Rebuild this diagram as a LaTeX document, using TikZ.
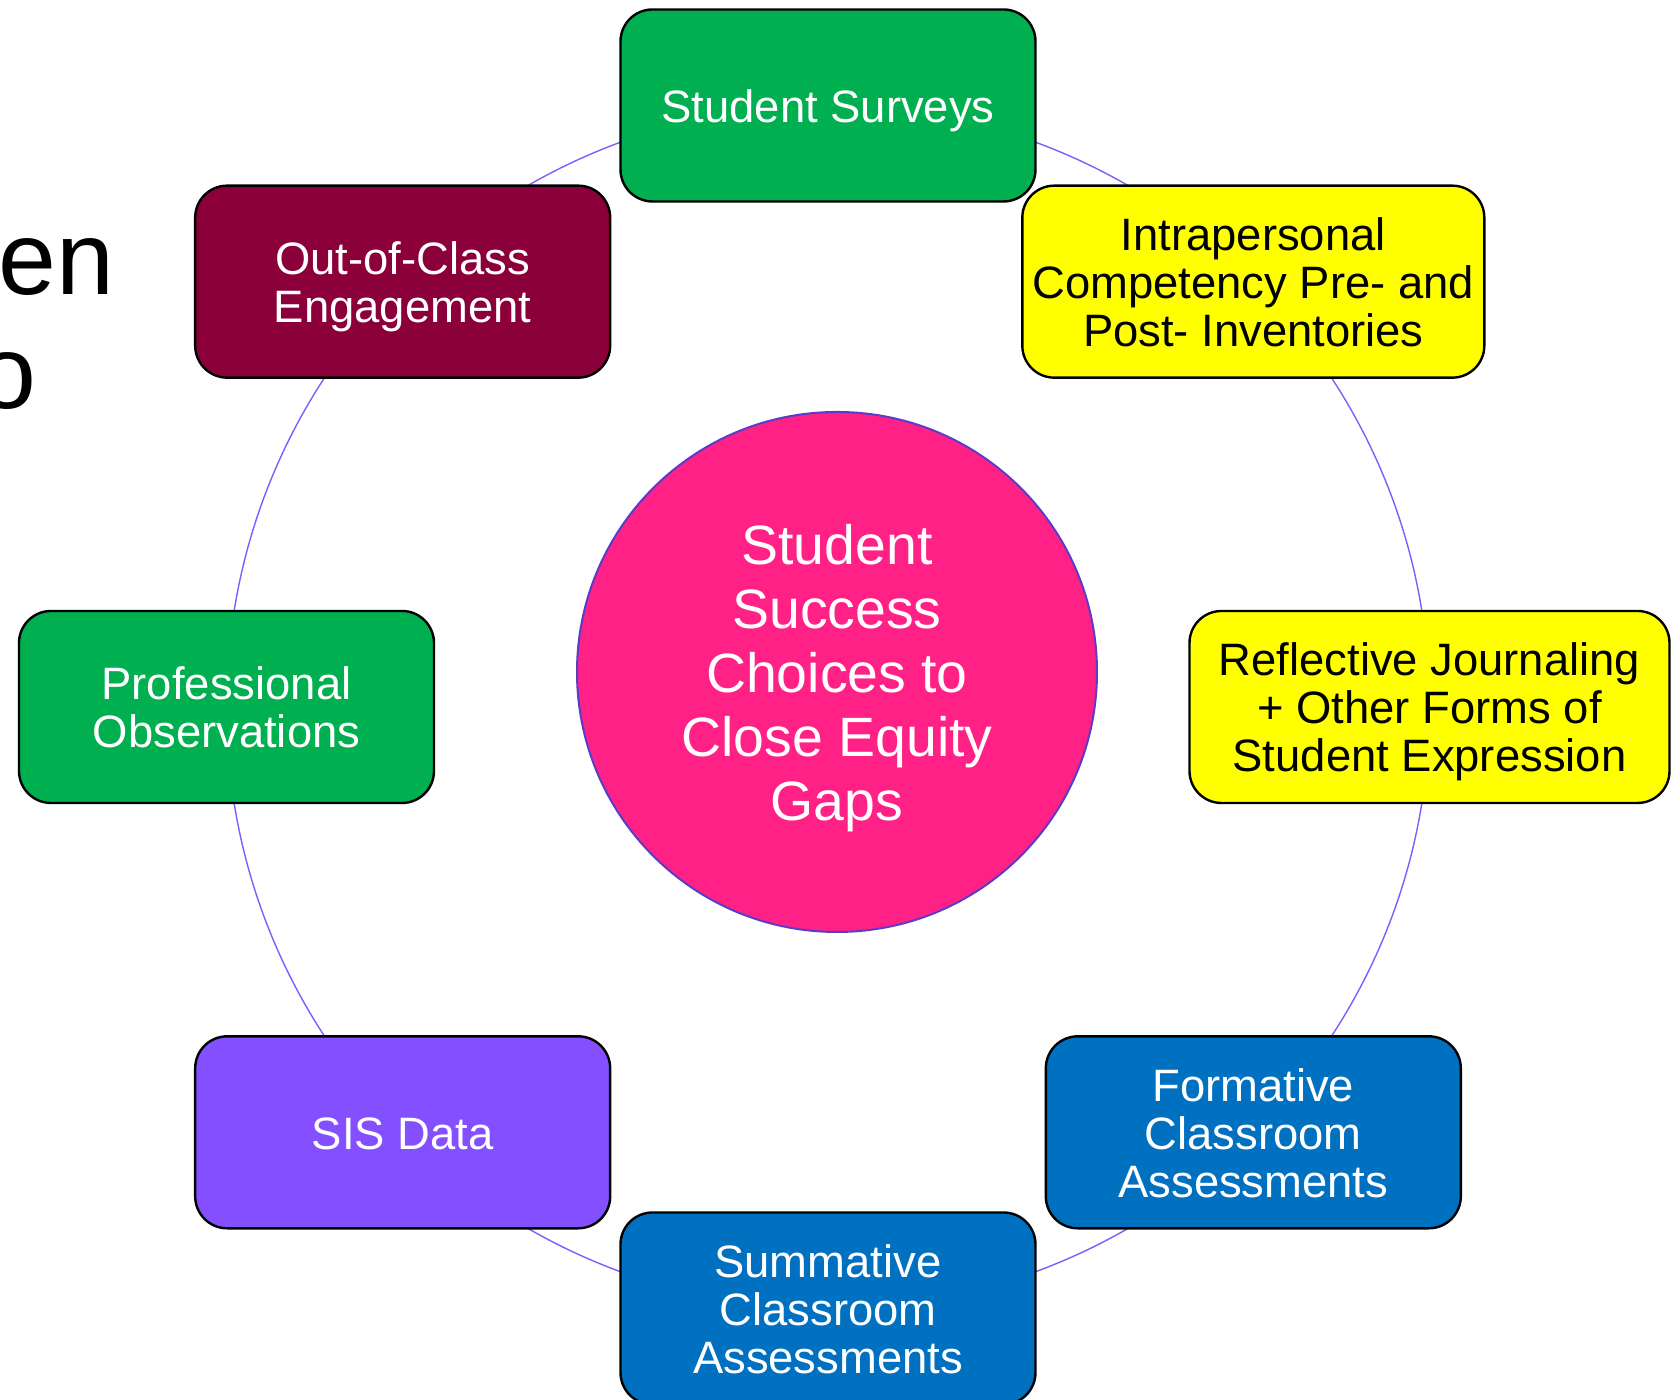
\documentclass[tikz,border=0pt]{standalone}
\usepackage{fontspec}
\setmainfont{Liberation Sans}
\usetikzlibrary{shapes,positioning,calc}

\definecolor{cardgreen}{RGB}{0,176,80}
\definecolor{cardwine}{RGB}{139,0,58}
\definecolor{cardyellow}{RGB}{255,255,0}
\definecolor{cardblue}{RGB}{0,112,192}
\definecolor{cardviolet}{RGB}{132,80,255}
\definecolor{hubpink}{RGB}{255,33,133}
\definecolor{hubedge}{RGB}{90,60,200}
\definecolor{ringviolet}{RGB}{130,90,255}

% struts so the text sits on its lines as in a slide text box
\newcommand{\linetop}{\rule{0pt}{0.96em}}
\newcommand{\linebot}{\rule[-0.212em]{0pt}{0pt}}

\begin{document}
\begin{tikzpicture}[x=0.5pt, y=0.5pt,
    card/.style={rectangle, rounded corners=16pt, draw=black, line width=1.2pt, minimum width=207.5pt, minimum height=96pt, inner sep=0pt, align=center, text=white, font=\fontsize{22.7pt}{24pt}\selectfont},
    hubdisc/.style={circle, draw=hubedge, line width=1pt, fill=hubpink, minimum size=260pt, inner sep=0pt, align=center, text=white, font=\fontsize{27.7pt}{32pt}\selectfont}]
    \useasboundingbox (0,0) rectangle (1678,1400);
    \def\R{601.5}

    % title cut off at the left edge
    \node[anchor=base east, inner sep=0pt, font=\fontsize{52pt}{57pt}\selectfont] (titleA) at (115,1105) {en};
    \node[anchor=base east, inner sep=0pt, font=\fontsize{52pt}{57pt}\selectfont] (titleB) at (37,991) {o};

    \coordinate (ring) at (828,693);
    \draw[ringviolet, line width=0.7pt] (ring) circle[radius=\R];

    \node[hubdisc] (hub) at (837,728) {\linetop Student\\Success\\Choices to\\Close Equity\\Gaps\linebot};

    \node[card, fill=cardgreen] (surveys) at ($(ring)+(90:\R)$) {\linetop Student Surveys\linebot};
    \node[card, fill=cardyellow, text=black, minimum width=231pt] (inventories) at ($(ring)+(45:\R)$) {\linetop Intrapersonal\\Competency Pre- and\\Post- Inventories\linebot};
    \node[card, fill=cardyellow, text=black, minimum width=240pt] (journaling) at ($(ring)+(0:\R)$) {\linetop Reflective Journaling\\+ Other Forms of\\Student Expression\linebot};
    \node[card, fill=cardblue] (formative) at ($(ring)+(-45:\R)$) {\linetop Formative\\Classroom\\Assessments\linebot};
    \node[card, fill=cardblue] (summative) at ($(ring)+(-90:\R)$) {\linetop Summative\\Classroom\\Assessments\linebot};
    \node[card, fill=cardviolet] (sis) at ($(ring)+(-135:\R)$) {\linetop SIS Data\linebot};
    \node[card, fill=cardgreen] (observations) at ($(ring)+(180:\R)$) {\linetop Professional\\Observations\linebot};
    \node[card, fill=cardwine] (engagement) at ($(ring)+(135:\R)$) {\linetop Out-of-Class\\Engagement\linebot};
\end{tikzpicture}
\end{document}
